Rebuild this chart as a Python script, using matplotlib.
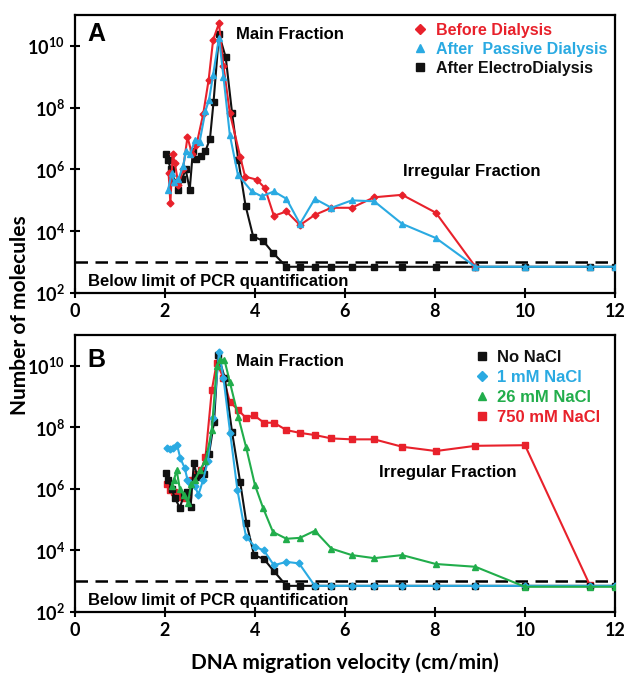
"""
Two-panel log plot of DNA molecule counts vs migration velocity.
"""

import numpy as np
from matplotlib import pyplot as plt
from matplotlib.lines import Line2D
from matplotlib.ticker import FixedLocator, NullLocator

plt.rcParams['font.family'] = ['Lato', 'DejaVu Sans']
plt.rcParams['mathtext.fontset'] = 'custom'
plt.rcParams['mathtext.bf'] = 'Lato:bold'
plt.rcParams['mathtext.rm'] = 'Lato:bold'

RED = "#e8212b"
CYAN = "#2aaae2"
GREEN = "#21ad4b"
BLACK = "#111111"

# ---- Panel A (values are log10 of molecule counts) ----
a_black_x = [2.02, 2.07, 2.13, 2.22, 2.3, 2.38, 2.46, 2.55, 2.62, 2.7, 2.8, 2.9, 3.0, 3.08, 3.2, 3.35,
             3.49, 3.63, 3.79, 3.96, 4.18, 4.4, 4.7, 5.0, 5.33, 5.7, 6.15, 6.65, 7.27, 8.02, 8.9, 10.0, 11.44, 12.0]
a_black_y = [6.5, 6.3, 6.0, 5.6, 5.35, 5.7, 6.0, 5.35, 6.6, 6.35, 6.45, 6.6, 7.0, 8.2, 10.38, 9.63,
             7.84, 6.3, 4.83, 3.83, 3.69, 3.3, 2.85, 2.85, 2.85, 2.85, 2.85, 2.85, 2.85, 2.85, 2.85, 2.85, 2.85, 2.85]

a_red_x = [2.08, 2.12, 2.17, 2.22, 2.3, 2.4, 2.5, 2.6, 2.7, 2.85, 2.97, 3.07, 3.2, 3.3, 3.44, 3.67, 3.78,
           4.04, 4.22, 4.42, 4.7, 5.0, 5.33, 5.7, 6.15, 6.65, 7.27, 8.02, 8.9]
a_red_y = [5.9, 4.9, 6.5, 6.2, 5.5, 6.0, 7.05, 6.5, 6.8, 7.8, 8.9, 10.2, 10.73, 9.35, 7.84, 6.42, 5.77,
           5.67, 5.4, 4.5, 4.64, 4.2, 4.53, 4.76, 4.76, 5.1, 5.18, 4.6, 2.85]

a_cyan_x = [2.07, 2.15, 2.2, 2.3, 2.4, 2.47, 2.56, 2.67, 2.77, 2.9, 2.98, 3.07, 3.2, 3.3, 3.44, 3.62, 3.93,
            4.15, 4.42, 4.7, 5.0, 5.33, 5.7, 6.15, 6.65, 7.27, 8.02, 8.9, 10.0, 11.44, 12.0]
a_cyan_y = [5.35, 5.9, 5.6, 5.7, 6.1, 6.6, 6.5, 6.97, 6.9, 7.9, 8.26, 9.07, 10.27, 9.0, 7.13, 5.83, 5.29,
            5.13, 5.29, 5.05, 4.24, 5.05, 4.76, 5.0, 4.97, 4.24, 3.78, 2.85, 2.85, 2.85, 2.85]

# ---- Panel B ----
b_black_x = [2.02, 2.07, 2.15, 2.22, 2.33, 2.42, 2.5, 2.57, 2.64, 2.72, 2.8, 2.87, 2.98, 3.09, 3.18, 3.33,
             3.49, 3.67, 3.81, 3.98, 4.2, 4.42, 4.7, 5.0, 5.33, 5.7, 6.15, 6.65, 7.27, 8.02, 8.9, 10.0, 11.44, 12.0]
b_black_y = [6.52, 6.28, 6.0, 5.7, 5.39, 5.8, 5.9, 5.42, 6.83, 6.4, 6.5, 6.5, 7.15, 8.18, 10.34, 9.6,
             7.85, 6.23, 4.89, 3.85, 3.72, 3.33, 2.85, 2.85, 2.85, 2.85, 2.85, 2.85, 2.85, 2.85, 2.85, 2.85, 2.85, 2.85]

b_cyan_x = [2.05, 2.12, 2.18, 2.27, 2.34, 2.44, 2.5, 2.56, 2.67, 2.74, 2.85, 2.95, 3.07, 3.2, 3.3, 3.45,
            3.61, 3.8, 4.0, 4.2, 4.42, 4.7, 4.98, 5.33, 5.7, 6.15, 6.65, 7.27, 8.02, 8.9, 10.0, 11.44, 12.0]
b_cyan_y = [7.32, 7.3, 7.32, 7.42, 7.0, 6.67, 6.3, 6.2, 6.1, 5.8, 6.3, 6.9, 8.3, 10.45, 9.6, 7.8,
            5.96, 4.45, 4.12, 4.0, 3.52, 3.63, 3.58, 2.85, 2.85, 2.85, 2.85, 2.85, 2.85, 2.85, 2.85, 2.85, 2.85]

b_green_x = [2.15, 2.2, 2.26, 2.33, 2.42, 2.51, 2.58, 2.67, 2.77, 2.9, 3.04, 3.15, 3.22, 3.32, 3.44, 3.63,
             3.8, 4.0, 4.18, 4.4, 4.7, 5.0, 5.33, 5.7, 6.15, 6.65, 7.27, 8.02, 8.9, 10.0, 11.44, 12.0]
b_green_y = [6.1, 6.3, 6.6, 6.0, 5.8, 5.54, 6.15, 6.3, 6.6, 6.9, 7.9, 10.0, 10.2, 10.2, 9.48, 8.34,
             7.37, 6.12, 5.38, 4.6, 4.38, 4.41, 4.64, 4.06, 3.85, 3.75, 3.85, 3.56, 3.47, 2.82, 2.82, 2.82]

b_red_x = [2.05, 2.12, 2.2, 2.28, 2.36, 2.44, 2.52, 2.6, 2.7, 2.8, 2.9, 3.04, 3.15, 3.3, 3.44, 3.63, 3.81,
           3.97, 4.2, 4.42, 4.7, 5.0, 5.33, 5.7, 6.15, 6.65, 7.27, 8.02, 8.9, 10.0, 11.44]
b_red_y = [6.15, 5.95, 5.9, 5.85, 5.75, 5.7, 5.8, 6.3, 6.5, 6.6, 7.04, 9.2, 10.1, 9.6, 8.83, 8.56, 8.29,
           8.4, 8.15, 8.15, 7.91, 7.82, 7.75, 7.64, 7.61, 7.61, 7.37, 7.23, 7.4, 7.42, 2.88]

PCR_LIMIT = 1e3
x_ticks = [0, 2, 4, 6, 8, 10, 12]
y_exponents = [2, 4, 6, 8, 10]

ANNOT_FONT = ['Liberation Sans', 'DejaVu Sans']


def style_axes(ax):
    ax.set_yscale('log')
    ax.set_xlim(0, 12)
    ax.set_ylim(1e2, 1e11)
    ax.xaxis.set_major_locator(FixedLocator(x_ticks))
    ax.yaxis.set_major_locator(FixedLocator([10.0 ** e for e in y_exponents]))
    ax.yaxis.set_minor_locator(NullLocator())
    ax.set_xticklabels([str(t) for t in x_ticks], fontsize=13, fontweight='bold')
    ax.set_yticklabels([r'$\mathbf{10^{%d}}$' % e for e in y_exponents], fontsize=13)
    ax.tick_params(direction='inout', length=7, width=1.5, pad=4)
    for spine in ax.spines.values():
        spine.set_linewidth(1.6)
    ax.axhline(PCR_LIMIT, color='black', lw=1.8, ls=(0, (5, 3)), zorder=1)
    ax.text(0.3, 10 ** 2.36, "Below limit of PCR quantification", fontsize=12, fontweight='bold',
            family=ANNOT_FONT, va='center')


def draw(ax, x, y, color, marker, ms):
    ax.plot(x, 10.0 ** np.array(y), color=color, lw=1.5, marker=marker, ms=ms, zorder=3)


fig = plt.figure(figsize=(6.27, 6.78), dpi=100)
ax_a = fig.add_axes([0.1196, 0.5678, 0.8612, 0.41])
ax_b = fig.add_axes([0.1196, 0.0973, 0.8612, 0.4086])

# panel A
draw(ax_a, a_black_x, a_black_y, BLACK, 's', 4)
draw(ax_a, a_red_x, a_red_y, RED, 'D', 3.5)
draw(ax_a, a_cyan_x, a_cyan_y, CYAN, '^', 4)
style_axes(ax_a)
ax_a.text(0.28, 10 ** 10.38, "A", fontsize=18, fontweight='bold', family=ANNOT_FONT, va='center')
ax_a.text(4.78, 10 ** 10.38, "Main Fraction", fontsize=12, fontweight='bold', family=ANNOT_FONT,
          ha='center', va='center')
ax_a.text(8.82, 10 ** 5.94, "Irregular Fraction", fontsize=12, fontweight='bold', family=ANNOT_FONT,
          ha='center', va='center')
handles_a = [Line2D([], [], color=RED, marker='D', ls='none', ms=5),
             Line2D([], [], color=CYAN, marker='^', ls='none', ms=6),
             Line2D([], [], color=BLACK, marker='s', ls='none', ms=6)]
ax_a.legend(handles_a, ["Before Dialysis", "After  Passive Dialysis", "After ElectroDialysis"],
            loc='upper right', frameon=False, labelcolor='linecolor', handlelength=0.8, handletextpad=0.6,
            labelspacing=0.25, borderaxespad=0.1, prop={'family': ANNOT_FONT, 'weight': 'bold', 'size': 11.5})

# panel B
draw(ax_b, b_red_x, b_red_y, RED, 's', 4)
draw(ax_b, b_black_x, b_black_y, BLACK, 's', 4)
draw(ax_b, b_cyan_x, b_cyan_y, CYAN, 'D', 3.5)
draw(ax_b, b_green_x, b_green_y, GREEN, '^', 4)
style_axes(ax_b)
ax_b.text(0.28, 10 ** 10.2, "B", fontsize=18, fontweight='bold', family=ANNOT_FONT, va='center')
ax_b.text(4.78, 10 ** 10.13, "Main Fraction", fontsize=12, fontweight='bold', family=ANNOT_FONT,
          ha='center', va='center')
ax_b.text(8.28, 10 ** 6.52, "Irregular Fraction", fontsize=12, fontweight='bold', family=ANNOT_FONT,
          ha='center', va='center')
handles_b = [Line2D([], [], color=BLACK, marker='s', ls='none', ms=6),
             Line2D([], [], color=CYAN, marker='D', ls='none', ms=5),
             Line2D([], [], color=GREEN, marker='^', ls='none', ms=6),
             Line2D([], [], color=RED, marker='s', ls='none', ms=6)]
ax_b.legend(handles_b, ["No NaCl", "1 mM NaCl", "26 mM NaCl", "750 mM NaCl"],
            loc='upper right', frameon=False, labelcolor='linecolor', handlelength=0.8, handletextpad=0.5,
            labelspacing=0.3, borderaxespad=0.3, borderpad=0.6,
            prop={'family': ANNOT_FONT, 'weight': 'bold', 'size': 12})

fig.text(0.032, 0.535, "Number of molecules", rotation=90, fontsize=15, fontweight='bold', ha='center', va='center')
fig.text(0.55, 0.023, "DNA migration velocity (cm/min)", fontsize=15, fontweight='bold', ha='center', va='center')

fig.savefig("out.png", dpi=100)
